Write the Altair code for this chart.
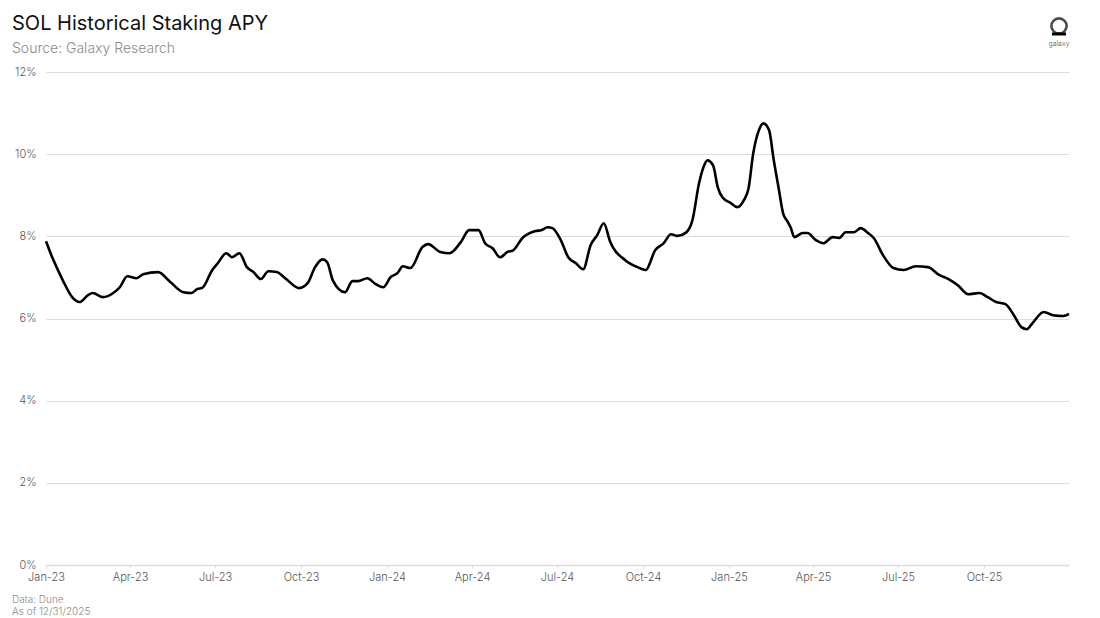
import altair as alt
import pandas as pd

dates = [
    "2023-01-01", "2023-01-08", "2023-01-19", "2023-01-29", "2023-02-06", "2023-02-15",
    "2023-02-20", "2023-03-03", "2023-03-14", "2023-03-21", "2023-03-29", "2023-04-08",
    "2023-04-15", "2023-05-01", "2023-05-14", "2023-05-28", "2023-06-06", "2023-06-12",
    "2023-06-17", "2023-06-28", "2023-07-04", "2023-07-13", "2023-07-19", "2023-07-27",
    "2023-08-04", "2023-08-11", "2023-08-19", "2023-08-27", "2023-09-05", "2023-09-14",
    "2023-09-29", "2023-10-08", "2023-10-16", "2023-10-24", "2023-10-29", "2023-11-04",
    "2023-11-17", "2023-11-25", "2023-12-01", "2023-12-11", "2023-12-19", "2023-12-28",
    "2024-01-05", "2024-01-12", "2024-01-18", "2024-01-26", "2024-02-08", "2024-02-14",
    "2024-02-27", "2024-03-08", "2024-03-20", "2024-03-29", "2024-04-08", "2024-04-15",
    "2024-04-23", "2024-05-01", "2024-05-09", "2024-05-15", "2024-05-25", "2024-06-08",
    "2024-06-14", "2024-06-21", "2024-06-26", "2024-07-05", "2024-07-13", "2024-07-21",
    "2024-07-29", "2024-08-06", "2024-08-13", "2024-08-20", "2024-08-27", "2024-09-12",
    "2024-09-25", "2024-10-04", "2024-10-14", "2024-10-23", "2024-10-31", "2024-11-07",
    "2024-11-16", "2024-11-23", "2024-11-30", "2024-12-05", "2024-12-09", "2024-12-15",
    "2024-12-20", "2024-12-25", "2025-01-03", "2025-01-10", "2025-01-17", "2025-01-22",
    "2025-01-27", "2025-02-02", "2025-02-07", "2025-02-13", "2025-02-18", "2025-02-23",
    "2025-02-28", "2025-03-05", "2025-03-08", "2025-03-12", "2025-03-21", "2025-03-26",
    "2025-04-04", "2025-04-12", "2025-04-22", "2025-04-29", "2025-05-06", "2025-05-15",
    "2025-05-22", "2025-05-30", "2025-06-05", "2025-06-15", "2025-06-26", "2025-07-07",
    "2025-07-20", "2025-08-02", "2025-08-14", "2025-08-24", "2025-09-03", "2025-09-14",
    "2025-09-26", "2025-10-05", "2025-10-14", "2025-10-24", "2025-11-02", "2025-11-10",
    "2025-11-16", "2025-11-22", "2025-12-04", "2025-12-14", "2025-12-25", "2025-12-31",
]

apy = [
    7.88, 7.47, 6.93, 6.52, 6.40, 6.57,
    6.62, 6.52, 6.62, 6.76, 7.03, 6.98,
    7.08, 7.13, 6.89, 6.64, 6.62, 6.72,
    6.74, 7.18, 7.35, 7.59, 7.49, 7.59,
    7.25, 7.13, 6.96, 7.15, 7.13, 6.98,
    6.74, 6.86, 7.25, 7.44, 7.37, 6.93,
    6.64, 6.91, 6.91, 6.98, 6.85, 6.76,
    7.01, 7.10, 7.27, 7.23, 7.74, 7.81,
    7.62, 7.59, 7.86, 8.15, 8.15, 7.83,
    7.71, 7.49, 7.62, 7.66, 7.96, 8.13,
    8.15, 8.22, 8.20, 7.91, 7.49, 7.35,
    7.20, 7.79, 8.03, 8.32, 7.86, 7.42,
    7.25, 7.18, 7.66, 7.83, 8.05, 8.01,
    8.09, 8.40, 9.29, 9.70, 9.85, 9.73,
    9.20, 8.95, 8.81, 8.71, 8.88, 9.17,
    10.02, 10.58, 10.75, 10.58, 9.85, 9.20,
    8.56, 8.35, 8.22, 7.98, 8.08, 8.08,
    7.91, 7.83, 7.98, 7.96, 8.10, 8.10,
    8.20, 8.08, 7.96, 7.54, 7.23, 7.18,
    7.27, 7.25, 7.06, 6.96, 6.81, 6.59,
    6.62, 6.52, 6.40, 6.35, 6.08, 5.79,
    5.74, 5.89, 6.16, 6.08, 6.06, 6.11,
]

y_ticks = [0, 2, 4, 6, 8, 10, 12]
x_tick_months = [(2023, 1), (2023, 4), (2023, 7), (2023, 10),
                 (2024, 1), (2024, 4), (2024, 7), (2024, 10),
                 (2025, 1), (2025, 4), (2025, 7), (2025, 10)]

title_text = "SOL Historical Staking APY"
subtitle_text = "Source: Galaxy Research"
footer_lines = ["Data: Dune", "As of 12/31/2025"]
logo_text = "galaxy"

df = pd.DataFrame({"date": dates, "apy": [v / 100 for v in apy]})

FONT = "Inter"
W, H = 1023, 493

x_vals = [alt.DateTime(year=y, month=m, date=1, utc=True) for y, m in x_tick_months]

x_enc = alt.X(
    "date:T",
    scale=alt.Scale(type="utc",
                    domain=[alt.DateTime(year=2023, month=1, date=1, utc=True),
                            alt.DateTime(year=2025, month=12, date=31, utc=True)]),
    axis=alt.Axis(
        values=x_vals, labelExpr="utcFormat(datum.value, '%b-%y')", title=None, grid=False,
        domainColor="#dcdcdc", domainWidth=1.5, tickColor="#dcdcdc", tickSize=3,
        labelFont=FONT, labelFontSize=11, labelColor="#555555", labelPadding=3,
        labelFontWeight=300, labelFlush=False, labelOverlap=False,
    ),
)
y_enc = alt.Y(
    "apy:Q",
    scale=alt.Scale(domain=[0, 0.12], nice=False, zero=True),
    axis=alt.Axis(
        values=[v / 100 for v in y_ticks], format=".0%", title=None,
        domain=False, ticks=False, gridColor="#dcdcdc", gridWidth=1,
        labelFont=FONT, labelFontSize=11, labelColor="#555555", labelPadding=10,
        labelFontWeight=300,
    ),
)

line = alt.Chart(df).mark_line(color="#000000", strokeWidth=2.6,
                               interpolate="monotone").encode(x=x_enc, y=y_enc)

def text_mark(txt, x, y, size, color, weight=400, align="left"):
    return alt.Chart(pd.DataFrame({"t": [txt]})).mark_text(
        align=align, baseline="alphabetic", font=FONT, fontSize=size,
        color=color, fontWeight=weight,
    ).encode(text="t:N", x=alt.value(x), y=alt.value(y))

title = text_mark(title_text, -34, -42, 20, "#111111", 400)
subtitle = text_mark(subtitle_text, -34, -19, 14, "#8a8a8a", 300)
foot1 = text_mark(footer_lines[0], -34, 531, 10, "#8a8a8a", 300)
foot2 = text_mark(footer_lines[1], -34, 543, 10, "#8a8a8a", 300)
logo_label = text_mark(logo_text, 1013, -26, 7, "#555555", 300, align="center")

logo_ring = alt.Chart(pd.DataFrame({"k": [0]})).mark_point(
    shape="circle", filled=False, stroke="#000000", strokeWidth=2.6, size=230,
).encode(x=alt.value(1013), y=alt.value(-46))
logo_bar = alt.Chart(pd.DataFrame({"k": [0]})).mark_rule(
    color="#000000", strokeWidth=3,
).encode(x=alt.value(1006), x2=alt.value(1020), y=alt.value(-38))

chart = alt.layer(
    line, title, subtitle, foot1, foot2, logo_ring, logo_bar, logo_label
).properties(
    width=W, height=H,
    padding={"left": 46, "top": 72, "right": 31, "bottom": 53},
    autosize=alt.AutoSizeParams(type="none"),
    background="#ffffff",
).configure_view(strokeWidth=0)

chart.save("out.html", embed_options={"renderer": "svg", "actions": False})
